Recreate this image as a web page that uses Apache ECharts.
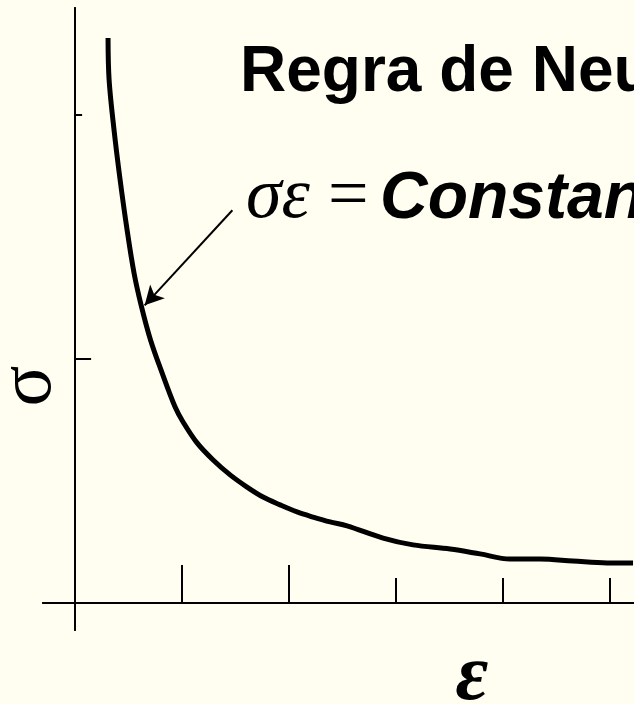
<!DOCTYPE html>
<html lang="pt">
<head>
    <meta charset="UTF-8">
    <title>Regra de Neuber</title>
    <script src="https://cdn.jsdelivr.net/npm/echarts@6/dist/echarts.min.js"></script>
    <style>
        html, body {
            margin: 0;
            padding: 0;
            background: #fffef0;
        }
        #main {
            width: 634px;
            height: 704px;
        }
    </style>
</head>
<body>
<div id="main"></div>
<script type="text/javascript">
    // curva sigma x epsilon (unidades = divisoes dos eixos)
    var epsilon = [0.308, 0.318, 0.364, 0.421, 0.486, 0.551, 0.617, 0.705, 0.813, 0.935,
                   1.009, 1.140, 1.290, 1.449, 1.607, 1.757, 1.916, 2.075, 2.224, 2.383,
                   2.542, 2.879, 3.159, 3.505, 3.785, 4.065, 4.346, 4.654, 4.972, 5.215];
    var sigma   = [2.316, 2.143, 1.939, 1.734, 1.529, 1.352, 1.221, 1.078, 0.943, 0.803,
                   0.742, 0.656, 0.586, 0.525, 0.475, 0.434, 0.402, 0.373, 0.352, 0.332,
                   0.316, 0.266, 0.238, 0.221, 0.201, 0.180, 0.180, 0.172, 0.164, 0.164];

    // marcas dos eixos (desenhadas a mao: duas alturas diferentes)
    var xTicksLong = [1, 2];
    var xTicksShort = [3, 4, 5];
    var yTicksLong = [1];
    var yTicksShort = [2];

    // seta que aponta para a curva
    var arrowFrom = [1.47, 1.61];
    var arrowTo = [0.65, 1.22];

    var titulo = 'Regra de Neuber';
    var formula = 'σε';
    var igual = '=';
    var constante = 'Constante';

    var myChart = echarts.init(document.getElementById('main'));

    var black = '#000';

    function xAxis(ticks, len) {
        return {
            type: 'value',
            position: 'bottom',
            min: -0.3,
            max: 5.224,
            axisLine: {show: true, onZero: true, onZeroAxisIndex: 0, lineStyle: {color: black, width: 2}},
            axisTick: {show: true, inside: true, length: len, customValues: ticks, lineStyle: {color: black, width: 2}},
            axisLabel: {show: false},
            splitLine: {show: false}
        };
    }

    function yAxis(ticks, len) {
        return {
            type: 'value',
            position: 'left',
            min: -0.111,
            max: 2.439,
            axisLine: {show: true, onZero: true, onZeroAxisIndex: 0, lineStyle: {color: black, width: 2}},
            axisTick: {show: true, inside: true, length: len, customValues: ticks, lineStyle: {color: black, width: 2}},
            axisLabel: {show: false},
            splitLine: {show: false}
        };
    }

    var option = {
        backgroundColor: '#fffef0',
        animation: false,
        grid: {left: 43, right: 0, top: 8, bottom: 74, containLabel: false, outerBoundsMode: 'none'},
        xAxis: [xAxis(xTicksShort, 25), xAxis(xTicksLong, 38)],
        yAxis: [yAxis(yTicksLong, 16), yAxis(yTicksShort, 7)],
        series: [
            {
                type: 'line',
                xAxisIndex: 0,
                yAxisIndex: 0,
                data: epsilon.map(function (e, i) { return [e, sigma[i]]; }),
                showSymbol: false,
                smooth: 0.35,
                lineStyle: {color: black, width: 5, cap: 'butt'},
                markLine: {
                    silent: true,
                    symbol: ['none', 'arrow'],
                    symbolSize: [15, 19],
                    label: {show: false},
                    lineStyle: {color: black, width: 2, type: 'solid'},
                    data: [[{coord: arrowFrom}, {coord: arrowTo}]]
                }
            }
        ],
        graphic: [
            {
                type: 'text', x: 240, y: 73,
                style: {text: titulo, font: 'bold 64px "Liberation Sans", Arial', fill: black, textVerticalAlign: 'middle'}
            },
            {
                type: 'text', x: 246, y: 198,
                style: {text: formula, font: 'italic 72px "Liberation Serif", serif', fill: black, textVerticalAlign: 'middle'}
            },
            {
                type: 'text', x: 328, y: 198,
                style: {text: igual, font: '72px "Liberation Serif", serif', fill: black, textVerticalAlign: 'middle'}
            },
            {
                type: 'text', x: 380, y: 200,
                style: {text: constante, font: 'italic bold 66px "Liberation Sans", Arial', fill: black, textVerticalAlign: 'middle'}
            },
            {
                // rotulo do eixo y
                type: 'text', x: 30, y: 386, rotation: Math.PI / 2,
                style: {text: 'σ', font: '76px "Liberation Serif", serif', fill: black, textAlign: 'center', textVerticalAlign: 'middle'}
            },
            {
                // rotulo do eixo x
                type: 'text', x: 472, y: 678,
                style: {text: 'ε', font: 'italic bold 80px "Liberation Serif", serif', fill: black, textAlign: 'center', textVerticalAlign: 'middle'}
            }
        ]
    };

    myChart.setOption(option);
</script>
</body>
</html>
